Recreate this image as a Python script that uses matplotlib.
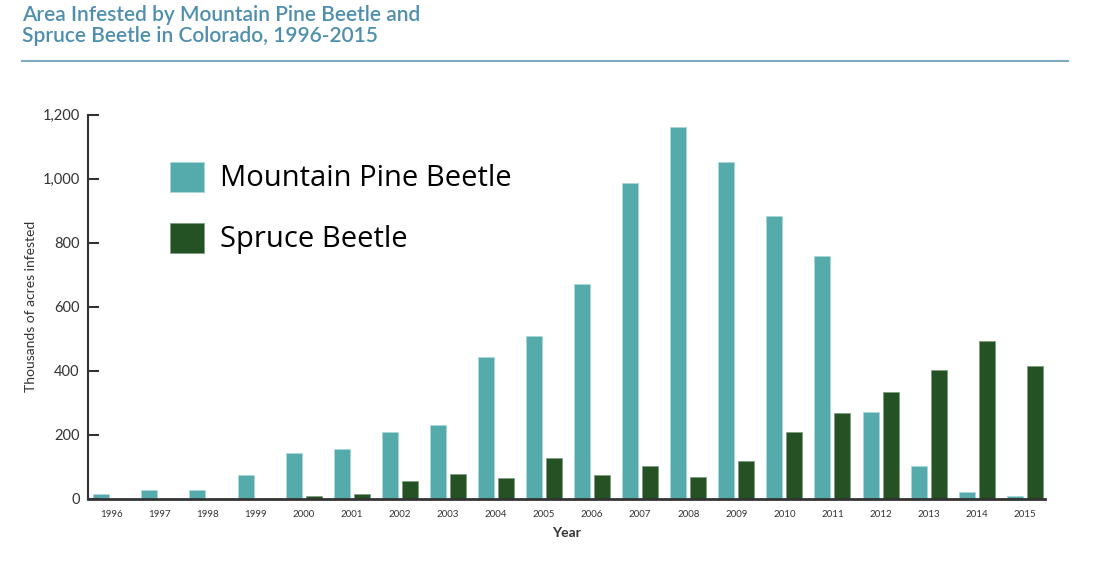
# Area infested by mountain pine beetle and spruce beetle in Colorado

import numpy as np
import matplotlib.pyplot as plt

years = [str(y) for y in range(1996, 2016)]
pine_beetle = [16, 27, 27, 75, 142, 155, 208, 230, 444, 508,
               672, 988, 1161, 1052, 883, 759, 270, 102, 20, 9]
spruce_beetle = [0, 0, 0, 0, 9, 14, 55, 78, 66, 126,
                 74, 102, 69, 118, 210, 267, 333, 403, 492, 415]

teal = '#55abab'
green = '#245224'
dark = '#333333'

fig = plt.figure(figsize=(11, 5.8), dpi=100)
ax = fig.add_axes([0.08, 0.140, 0.87, 0.662])

x = np.arange(len(years))
w = 0.333
off = 0.208
b1 = ax.bar(x - off, pine_beetle, width=w, color=teal, edgecolor='#a8d8d8',
            linewidth=0.6, label='Mountain Pine Beetle')
b2 = ax.bar(x + off, spruce_beetle, width=w, color=green, edgecolor='#7f9f7f',
            linewidth=0.6, label='Spruce Beetle')

ax.set_xlim(-0.485, 19.42)
ax.set_ylim(0, 1200)
ax.set_yticks(range(0, 1201, 200))
ax.set_yticklabels([f'{v:,}' for v in range(0, 1201, 200)], fontsize=10.5,
                   color=dark, family='Lato')
ax.set_xticks(x)
ax.set_xticklabels(years, fontsize=7, color=dark, family='Lato')

for s in ['top', 'right']:
    ax.spines[s].set_visible(False)
for s in ['left', 'bottom']:
    ax.spines[s].set_color(dark)
ax.spines['left'].set_linewidth(1.5)
ax.spines['bottom'].set_linewidth(2)
ax.tick_params(axis='y', direction='in', length=8, width=1.5, color=dark, pad=6)
ax.tick_params(axis='x', length=0, pad=8)

ax.set_ylabel('Thousands of acres infested', fontsize=10, color=dark,
              family='Lato', labelpad=4)
ax.set_xlabel('Year', fontsize=10, color=dark, family='Lato',
              fontweight='bold', labelpad=6)

ax.legend(handles=[b1, b2], loc='upper left', bbox_to_anchor=(0.0857, 0.878),
          frameon=False, handlelength=1.15, handleheight=1.2,
          handletextpad=0.55, labelspacing=1.0, borderpad=0, borderaxespad=0,
          prop={'family': 'Open Sans', 'size': 21})

fig.text(0.02, 0.992, 'Area Infested by Mountain Pine Beetle and\nSpruce Beetle in Colorado, 1996-2015',
         fontsize=15, color='#4f8fae', family='Lato', fontweight='semibold',
         va='top', ha='left', linespacing=1.1)
fig.add_artist(plt.Line2D([0.02, 0.971], [1 - 60.5 / 580] * 2,
                          color='#7eaac2', linewidth=1.5))

fig.savefig('out.png', dpi=100)
